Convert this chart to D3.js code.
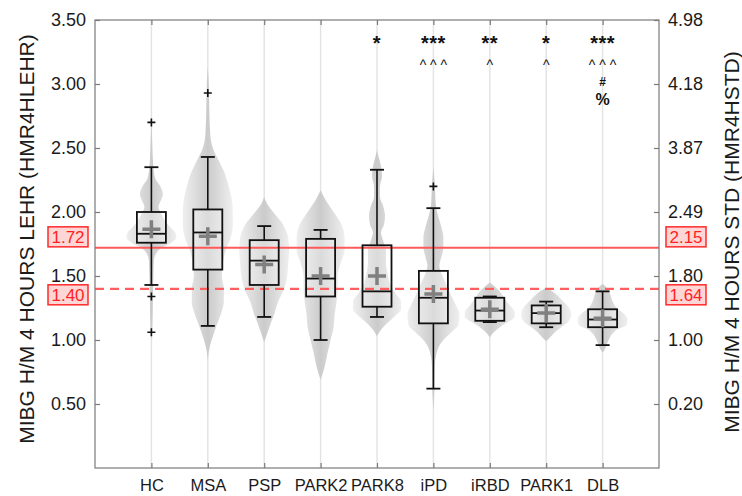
<!DOCTYPE html>
<html>
<head>
<meta charset="utf-8">
<script src="https://cdn.jsdelivr.net/npm/d3@7"></script>
<style>
  html, body { margin: 0; padding: 0; background: #fff; }
  svg { display: block; font-family: "Liberation Sans", Arial, Helvetica, sans-serif; }
</style>
</head>
<body>
<svg id="chart" width="742" height="496"></svg>
<script>
// ---------------- data ----------------
const categories = ["HC", "MSA", "PSP", "PARK2", "PARK8", "iPD", "iRBD", "PARK1", "DLB"];
const whiskerLow  = [1.43, 1.11, 1.18, 1.00, 1.18, 0.62, 1.14, 1.10, 0.96];
const q1          = [1.76, 1.55, 1.43, 1.34, 1.26, 1.13, 1.15, 1.13, 1.10];
const medians     = [1.83, 1.84, 1.62, 1.48, 1.38, 1.33, 1.23, 1.21, 1.16];
const q3          = [2.00, 2.02, 1.78, 1.79, 1.74, 1.54, 1.33, 1.27, 1.24];
const whiskerHigh = [2.35, 2.43, 1.89, 1.86, 2.33, 2.03, 1.34, 1.30, 1.38];
const means       = [1.865, 1.81, 1.59, 1.50, 1.50, 1.36, 1.24, 1.21, 1.17];
const outliers    = [[2.70, 1.34, 1.06], [2.93], [], [], [], [2.20], [], [], []];

// violin profiles: [value, relative density]
const violinHC    = [[1.0,0],[1.10,.04],[1.3,.06],[1.5,.08],[1.62,.1],[1.68,.2],[1.72,.42],[1.76,.8],[1.80,1.0],[1.84,.95],[1.88,.75],[1.94,.52],[2.0,.36],[2.04,.28],[2.09,.38],[2.14,.46],[2.2,.36],[2.26,.16],[2.35,.08],[2.5,.04],[2.75,0]];
const violinMSA   = [[0.84,0],[0.95,.08],[1.05,.24],[1.12,.36],[1.2,.52],[1.3,.64],[1.4,.64],[1.5,.56],[1.6,.6],[1.7,.72],[1.8,.92],[1.9,1],[2.0,1],[2.1,.96],[2.2,.84],[2.3,.68],[2.4,.44],[2.5,.2],[2.6,.1],[2.8,.06],[3.0,.04],[3.13,0]];
const violinPSP   = [[0.98,0],[1.05,.12],[1.12,.24],[1.2,.4],[1.3,.56],[1.4,.8],[1.5,.92],[1.6,.96],[1.7,1],[1.8,.96],[1.9,.76],[2.0,.36],[2.05,.16],[2.12,0]];
const violinPARK2 = [[0.69,0],[0.79,.16],[0.9,.28],[1.0,.4],[1.1,.52],[1.2,.56],[1.3,.64],[1.4,.68],[1.5,.68],[1.6,.8],[1.7,.96],[1.8,.96],[1.9,.84],[2.0,.52],[2.08,.24],[2.17,0]];
const violinPARK8 = [[1.03,0],[1.08,.16],[1.13,.4],[1.18,.68],[1.24,.96],[1.3,.96],[1.36,.76],[1.42,.56],[1.5,.44],[1.6,.36],[1.7,.36],[1.78,.24],[1.84,.16],[1.9,.28],[1.97,.32],[2.05,.24],[2.12,.12],[2.2,.12],[2.28,.2],[2.36,.16],[2.42,.08],[2.48,0]];
const violinIPD   = [[0.45,0],[0.6,.04],[0.8,.06],[0.92,.16],[1.0,.4],[1.06,.72],[1.12,1],[1.2,1.04],[1.28,.88],[1.36,.68],[1.45,.48],[1.52,.32],[1.58,.24],[1.65,.32],[1.72,.4],[1.8,.4],[1.88,.32],[1.96,.2],[2.05,.1],[2.2,.06],[2.35,0]];
const violinIRBD  = [[1.02,0],[1.06,.16],[1.1,.4],[1.14,.72],[1.18,1],[1.22,1],[1.27,.8],[1.32,.6],[1.37,.44],[1.41,.24],[1.45,0]];
const violinPARK1 = [[0.99,0],[1.03,.2],[1.07,.4],[1.1,.6],[1.15,.92],[1.2,1],[1.25,.92],[1.3,.68],[1.35,.44],[1.38,.24],[1.41,0]];
const violinDLB   = [[0.90,0],[0.94,.12],[1.0,.24],[1.05,.4],[1.08,.56],[1.12,.96],[1.16,1],[1.2,.88],[1.25,.56],[1.3,.4],[1.35,.32],[1.4,.2],[1.44,0]];
const violins = [violinHC, violinMSA, violinPSP, violinPARK2, violinPARK8, violinIPD, violinIRBD, violinPARK1, violinDLB];

const sigStars   = ["", "", "", "", "*", "***", "**", "*", "***"];
const sigCarets  = ["", "", "", "", "", "^ ^ ^", "^", "^", "^ ^ ^"];
const sigHash    = ["", "", "", "", "", "", "", "", "#"];
const sigPercent = ["", "", "", "", "", "", "", "", "%"];

const leftTicks = [0.5, 1.0, 1.5, 2.0, 2.5, 3.0, 3.5];
const rightTickLabels = ["0.20", "1.00", "1.80", "2.49", "3.87", "4.18", "4.98"];
const cutoffs = [1.72, 1.40];
const cutoffLabelsRight = ["2.15", "1.64"];

// ---------------- layout ----------------
const svg = d3.select("#chart");
const L = 95, R = 659, T = 20, B = 468;
const x = d3.scaleLinear().domain([0, categories.length + 1]).range([L, R]);
const y = d3.scaleLinear().domain([0, 3.5]).range([B, T]);
const w = d3.scaleLinear().domain([0, 1]).range([0, 25]);
const boxHalf = 14.5, capHalf = 7;
const axisColor = "#7a7a7a";

const defs = svg.append("defs");
const grad = defs.append("linearGradient").attr("id", "vg").attr("x1", "0").attr("x2", "1").attr("y1", "0").attr("y2", "0");
grad.append("stop").attr("offset", "0").attr("stop-color", "#efefef");
grad.append("stop").attr("offset", "0.5").attr("stop-color", "#cbcbcb");
grad.append("stop").attr("offset", "1").attr("stop-color", "#efefef");

// grid lines
svg.append("g").selectAll("line").data(categories).join("line")
  .attr("x1", (d, i) => x(i + 1)).attr("x2", (d, i) => x(i + 1))
  .attr("y1", T).attr("y2", B)
  .attr("stroke", "#e4e4e4").attr("stroke-width", 1.5);

// violins
const area = d3.area()
  .curve(d3.curveMonotoneY)
  .y(d => y(d[0]));
svg.append("g").selectAll("path").data(violins).join("path")
  .attr("d", (v, i) => area.x0(d => x(i + 1) - w(d[1])).x1(d => x(i + 1) + w(d[1]))(v))
  .attr("fill", "url(#vg)");

// box fills
svg.append("g").selectAll("rect").data(categories).join("rect")
  .attr("x", (d, i) => x(i + 1) - boxHalf).attr("width", boxHalf * 2)
  .attr("y", (d, i) => y(q3[i])).attr("height", (d, i) => y(q1[i]) - y(q3[i]))
  .attr("fill", "rgba(255,255,255,0.3)");

// cutoff lines
svg.append("line").attr("x1", L).attr("x2", R).attr("y1", y(cutoffs[0])).attr("y2", y(cutoffs[0]))
  .attr("stroke", "#ff5a5a").attr("stroke-width", 2);
svg.append("line").attr("x1", L).attr("x2", R).attr("y1", y(cutoffs[1])).attr("y2", y(cutoffs[1]))
  .attr("stroke", "#ff5f5f").attr("stroke-width", 2.2).attr("stroke-dasharray", "9,6");

// boxes, whiskers
const gb = svg.append("g").attr("stroke", "#111").attr("fill", "none");
categories.forEach((c, i) => {
  const cx = x(i + 1);
  gb.append("line").attr("x1", cx).attr("x2", cx).attr("y1", y(q3[i])).attr("y2", y(whiskerHigh[i])).attr("stroke-width", 1.6);
  gb.append("line").attr("x1", cx).attr("x2", cx).attr("y1", y(q1[i])).attr("y2", y(whiskerLow[i])).attr("stroke-width", 1.6);
  gb.append("line").attr("x1", cx - capHalf).attr("x2", cx + capHalf).attr("y1", y(whiskerHigh[i])).attr("y2", y(whiskerHigh[i])).attr("stroke-width", 1.8);
  gb.append("line").attr("x1", cx - capHalf).attr("x2", cx + capHalf).attr("y1", y(whiskerLow[i])).attr("y2", y(whiskerLow[i])).attr("stroke-width", 1.8);
  gb.append("rect").attr("x", cx - boxHalf).attr("width", boxHalf * 2)
    .attr("y", y(q3[i])).attr("height", y(q1[i]) - y(q3[i])).attr("stroke-width", 1.8);
  gb.append("line").attr("x1", cx - boxHalf).attr("x2", cx + boxHalf).attr("y1", y(medians[i])).attr("y2", y(medians[i])).attr("stroke-width", 1.8);
  outliers[i].forEach(o => {
    gb.append("path").attr("d", `M${cx - 4},${y(o)}H${cx + 4}M${cx},${y(o) - 4}V${y(o) + 4}`).attr("stroke-width", 1.6);
  });
});

// mean markers
const gm = svg.append("g").attr("stroke", "#808080").attr("stroke-width", 3.5).attr("fill", "none");
means.forEach((m, i) => {
  const cx = x(i + 1);
  gm.append("path").attr("d", `M${cx - 9},${y(m)}H${cx + 9}M${cx},${y(m) - 9}V${y(m) + 9}`);
});

// frame
svg.append("rect").attr("x", L).attr("y", T).attr("width", R - L).attr("height", B - T)
  .attr("fill", "none").attr("stroke", axisColor).attr("stroke-width", 1.2);

function styleAxis(g, size) {
  g.select(".domain").remove();
  g.selectAll(".tick line").attr("stroke", axisColor).attr("stroke-width", 1.2);
  g.selectAll(".tick text").attr("fill", "#1a1a1a").attr("font-size", size)
    .attr("font-family", '"Liberation Sans", Arial, Helvetica, sans-serif');
}

// axes
svg.append("g").attr("transform", `translate(${L},0)`)
  .call(d3.axisLeft(y).tickValues(leftTicks).tickFormat(d3.format(".2f")).tickSizeInner(-5).tickSizeOuter(0).tickPadding(9))
  .call(styleAxis, 18);
svg.append("g").attr("transform", `translate(${R},0)`)
  .call(d3.axisRight(y).tickValues(leftTicks).tickFormat((d, i) => rightTickLabels[i]).tickSizeInner(-5).tickSizeOuter(0).tickPadding(9))
  .call(styleAxis, 18);
svg.append("g").attr("transform", `translate(0,${B})`)
  .call(d3.axisBottom(x).tickValues(d3.range(1, categories.length + 1)).tickFormat(d => categories[d - 1]).tickSizeInner(-5).tickSizeOuter(0).tickPadding(11))
  .call(styleAxis, 16.5);
svg.append("g").attr("transform", `translate(0,${T})`)
  .call(d3.axisTop(x).tickValues(d3.range(1, categories.length + 1)).tickFormat("").tickSizeInner(-5).tickSizeOuter(0))
  .call(styleAxis, 16);

// axis titles
svg.append("text").attr("transform", `translate(26,239) rotate(-90)`)
  .attr("text-anchor", "middle").attr("dominant-baseline", "central")
  .attr("font-size", 21).attr("fill", "#1a1a1a").text("MIBG H/M 4 HOURS LEHR (HMR4HLEHR)");
svg.append("text").attr("transform", `translate(731,242) rotate(-90)`)
  .attr("text-anchor", "middle").attr("dominant-baseline", "central")
  .attr("font-size", 21).attr("fill", "#1a1a1a").text("MIBG H/M 4 HOURS STD (HMR4HSTD)");

// cutoff labels
const labelOffsets = [-11, 6];
function cutLabel(cx, val, txt, off) {
  const cy = y(val) + off;
  svg.append("rect").attr("x", cx - 20).attr("y", cy - 10).attr("width", 40).attr("height", 20)
    .attr("fill", "#ffd6d6").attr("stroke", "#ff2a2a").attr("stroke-width", 1.5);
  svg.append("text").attr("x", cx).attr("y", cy + 1).attr("text-anchor", "middle").attr("dominant-baseline", "central")
    .attr("font-size", 17).attr("fill", "#ff1f1f").text(txt);
}
cutoffs.forEach((c, i) => {
  cutLabel(68, c, d3.format(".2f")(c), labelOffsets[i]);
  cutLabel(686, c, cutoffLabelsRight[i], labelOffsets[i]);
});

// significance annotations
const ga = svg.append("g").attr("fill", "#111").attr("text-anchor", "middle");
categories.forEach((c, i) => {
  const cx = x(i + 1);
  if (sigStars[i]) ga.append("text").attr("x", cx).attr("y", 50).attr("font-size", 20).attr("font-weight", "bold").attr("letter-spacing", 0.5).text(sigStars[i]);
  if (sigCarets[i]) ga.append("text").attr("x", cx).attr("y", 70).attr("font-size", 14).text(sigCarets[i]);
  if (sigHash[i]) ga.append("text").attr("x", cx).attr("y", 86).attr("font-size", 12).attr("font-weight", "bold").text(sigHash[i]);
  if (sigPercent[i]) ga.append("text").attr("x", cx).attr("y", 105).attr("font-size", 16).attr("font-weight", "bold").text(sigPercent[i]);
});
</script>
</body>
</html>
